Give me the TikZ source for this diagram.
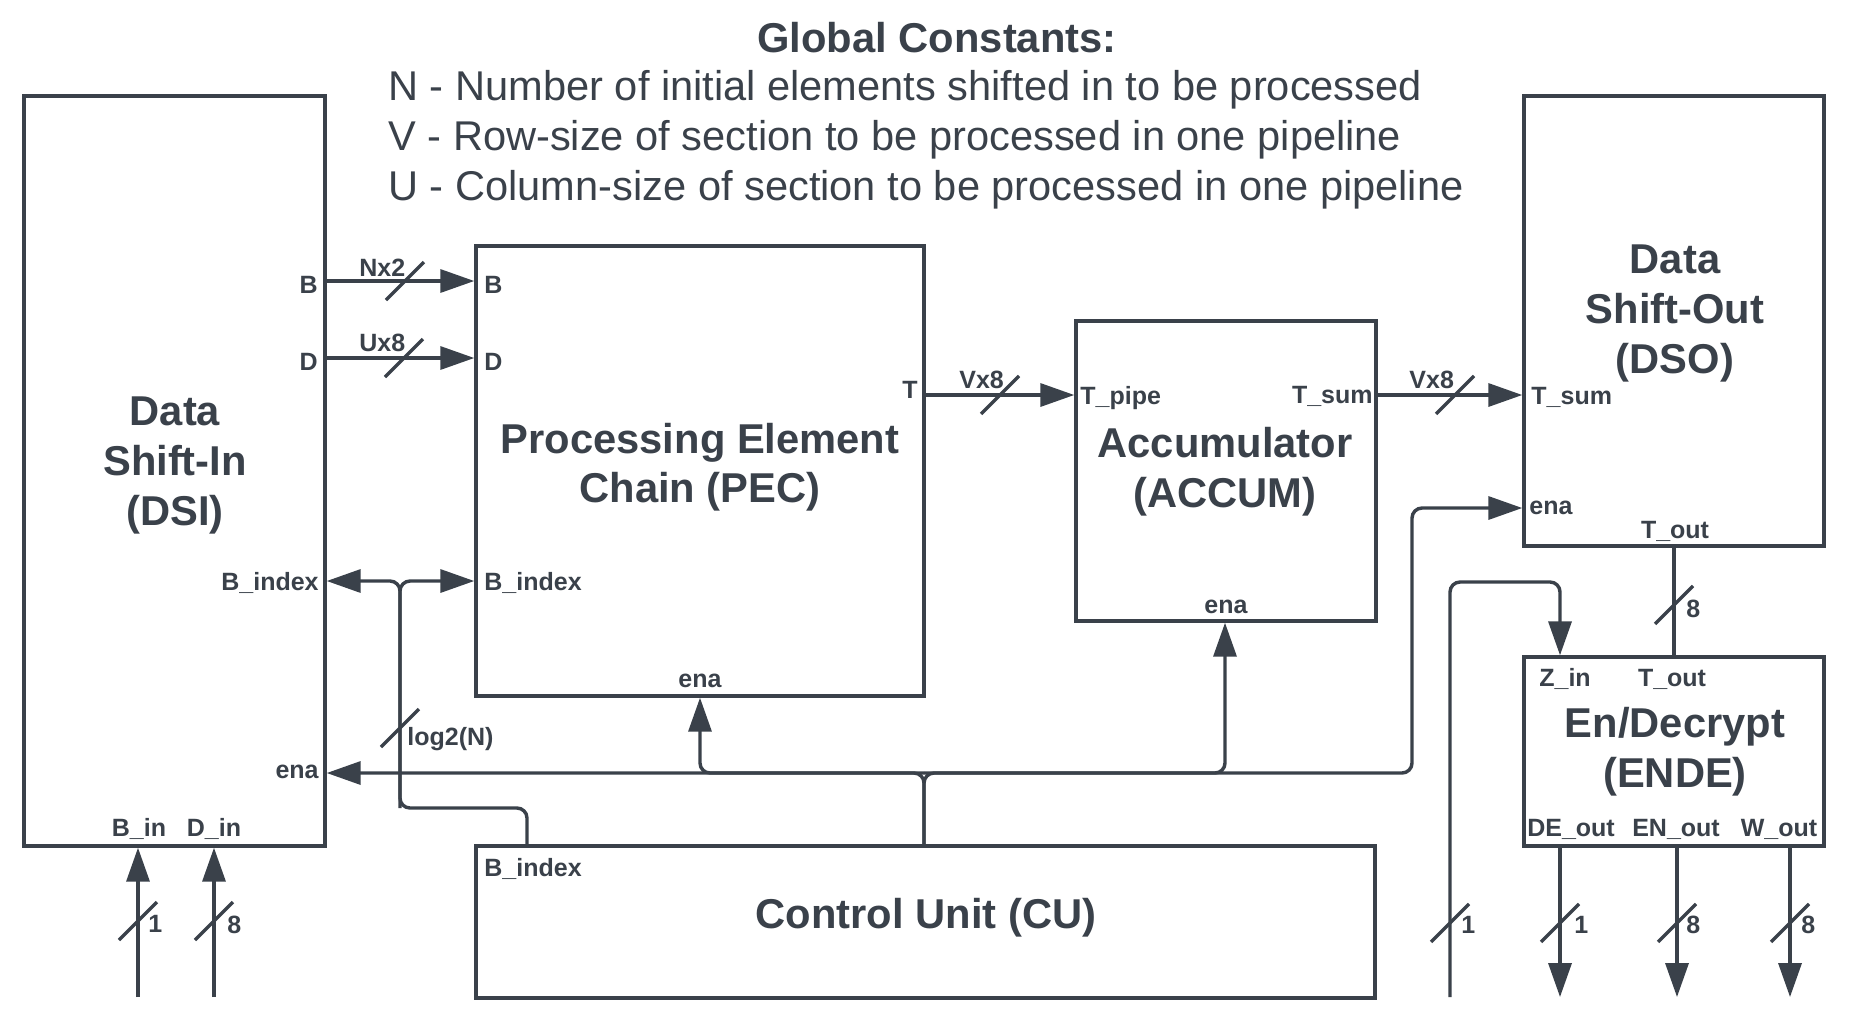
\documentclass[tikz,border=0pt]{standalone}
\usepackage{fontspec}
\setmainfont{Liberation Sans}
\usetikzlibrary{arrows.meta,calc}
\definecolor{ink}{HTML}{3A414A}
\tikzset{
  blk/.style={draw=ink, line width=1.7pt, rectangle, inner sep=0pt},
  wire/.style={draw=ink, line width=1.7pt, rounded corners=5pt},
  arr/.style={wire, -{Triangle[length=17pt,width=11.5pt]}},
  big/.style={text=ink, font=\fontsize{20.85pt}{25pt}\selectfont\bfseries, inner sep=0pt, anchor=base},
  const/.style={text=ink, font=\fontsize{20.8pt}{25pt}\selectfont, inner sep=0pt, anchor=base west},
  lbl/.style={text=ink, font=\fontsize{12.5pt}{15pt}\selectfont\bfseries, inner sep=0pt},
  bus/.pic={\draw[draw=ink, line width=1.7pt] (-19,19) -- (19,-19);},
}
\begin{document}
\begin{tikzpicture}[x=0.5pt, y=-0.5pt]
\fill[white] (0,0) rectangle (1855,1019);
\useasboundingbox (0,0) rectangle (1855,1019);

% constants
\node[big] (gc) at (937,52) {Global Constants:};
\node[const] (cn) at (388,100) {N - Number of initial elements shifted in to be processed};
\node[const] (cv) at (388,150) {V - Row-size of section to be processed in one pipeline};
\node[const] (cuu) at (388,200) {U - Column-size of section to be processed in one pipeline};

% blocks
\node[blk, minimum width=150.5pt, minimum height=375pt] (dsi) at (174.5,471) {};
\node[blk, minimum width=224pt, minimum height=225pt] (pec) at (700,471) {};
\node[blk, minimum width=150pt, minimum height=150pt] (acc) at (1226,471) {};
\node[blk, minimum width=150pt, minimum height=225pt] (dso) at (1674,321) {};
\node[blk, minimum width=150pt, minimum height=94.5pt] (ende) at (1674,751.5) {};
\node[blk, minimum width=449.5pt, minimum height=76pt] (cu) at (925.5,922) {};

% block titles
\node[big] (dsi1) at (175,425) {Data};
\node[big] (dsi2) at (175,475) {Shift-In};
\node[big] (dsi3) at (175,525) {(DSI)};
\node[big] (pec1) at (700,453) {Processing Element};
\node[big] (pec2) at (700,502) {Chain (PEC)};
\node[big] (acc1) at (1225,457) {Accumulator};
\node[big] (acc2) at (1225,507) {(ACCUM)};
\node[big] (dso1) at (1675,273) {Data};
\node[big] (dso2) at (1675,323) {Shift-Out};
\node[big] (dso3) at (1675,373) {(DSO)};
\node[big] (end1) at (1675,737) {En/Decrypt};
\node[big] (end2) at (1675,787) {(ENDE)};
\node[big] (cut) at (926,928) {Control Unit (CU)};

% port labels
\node[lbl, anchor=base east] (pDsiB) at (318,293) {B};
\node[lbl, anchor=base east] (pDsiD) at (318,370) {D};
\node[lbl, anchor=base east] (pDsiBi) at (319,590) {B\_index};
\node[lbl, anchor=base east] (pDsiE) at (319,778) {ena};
\node[lbl, anchor=base] (pDsiBin) at (139,836) {B\_in};
\node[lbl, anchor=base] (pDsiDin) at (214,836) {D\_in};
\node[lbl, anchor=base west] (pPecB) at (484,293) {B};
\node[lbl, anchor=base west] (pPecD) at (484,370) {D};
\node[lbl, anchor=base west] (pPecBi) at (484,590) {B\_index};
\node[lbl, anchor=base] (pPecE) at (700,687) {ena};
\node[lbl, anchor=base east] (pPecT) at (918,398) {T};
\node[lbl, anchor=base west] (pAccT) at (1080,404) {T\_pipe};
\node[lbl, anchor=base east] (pAccS) at (1373,403) {T\_sum};
\node[lbl, anchor=base] (pAccE) at (1226,613) {ena};
\node[lbl, anchor=base west] (pDsoS) at (1531,404) {T\_sum};
\node[lbl, anchor=base west] (pDsoE) at (1529,514) {ena};
\node[lbl, anchor=base] (pDsoT) at (1675,538) {T\_out};
\node[lbl, anchor=base west] (pCuB) at (484,876) {B\_index};
\node[lbl, anchor=base] (pEnZ) at (1565,686) {Z\_in};
\node[lbl, anchor=base] (pEnT) at (1672,686) {T\_out};
\node[lbl, anchor=base] (pEnDE) at (1571,836) {DE\_out};
\node[lbl, anchor=base] (pEnEN) at (1676,836) {EN\_out};
\node[lbl, anchor=base] (pEnW) at (1779,836) {W\_out};

% level / column coordinates
\coordinate (yB) at (0,281);
\coordinate (yD) at (0,358);
\coordinate (yT) at (0,395);
\coordinate (yBi) at (0,581);
\coordinate (yBbus) at (0,808);
\coordinate (yEna) at (0,773);
\coordinate (yDsoEna) at (0,508);
\coordinate (yZ) at (0,582);
\coordinate (yBot) at (0,997);
\coordinate (xBj) at (400,0);
\coordinate (xCuB) at (527,0);
\coordinate (xCuE) at (924,0);
\coordinate (xPecE) at (700,0);
\coordinate (xAccE) at (1225,0);
\coordinate (xDsoE) at (1412,0);
\coordinate (xZ) at (1450,0);
\coordinate (xZin) at (1560,0);
\coordinate (xEN) at (1677,0);
\coordinate (xW) at (1790,0);
\coordinate (xBin) at (138,0);
\coordinate (xDin) at (214,0);

% data connectors
\draw[arr] (dsi.east |- yB) -- (pec.west |- yB);
\draw[arr] (dsi.east |- yD) -- (pec.west |- yD);
\draw[arr] (pec.east |- yT) -- (acc.west |- yT);
\draw[arr] (acc.east |- yT) -- (dso.west |- yT);

% B_index bus
\draw[arr] (cu.north -| xCuB) |- (xBj |- yBbus) |- (dsi.east |- yBi);
\draw[arr] (xBj |- yBbus) -- (xBj |- yBi) -- (pec.west |- yBi);

% enable network
\draw[arr] (cu.north -| xCuE) |- (dsi.east |- yEna);
\draw[arr] (cu.north -| xCuE) |- (xDsoE |- yEna) |- (dso.west |- yDsoEna);
\draw[arr] (xCuE |- yEna) -| (pec.south -| xPecE);
\draw[arr] (xCuE |- yEna) -| (acc.south -| xAccE);

% DSO -> ENDE
\draw[wire] (dso.south) -- (ende.north);
\draw[arr] (xZ |- yBot) |- (xZin |- yZ) -- (ende.north -| xZin);

% outputs
\draw[arr] (ende.south -| xZin) -- (xZin |- yBot);
\draw[arr] (ende.south -| xEN) -- (xEN |- yBot);
\draw[arr] (ende.south -| xW) -- (xW |- yBot);

% inputs
\draw[arr] (xBin |- yBot) -- (dsi.south -| xBin);
\draw[arr] (xDin |- yBot) -- (dsi.south -| xDin);

% bus slashes
\pic at (405,281) {bus};
\pic at (404,358) {bus};
\pic at (1000,395) {bus};
\pic at (1455,395) {bus};
\pic at (400,728) {bus};
\pic at (138,921) {bus};
\pic at (214,921) {bus};
\pic at (1674,605) {bus};
\pic at (1450,923) {bus};
\pic at (1560,923) {bus};
\pic at (1677,923) {bus};
\pic at (1790,923) {bus};

% bus width labels
\node[lbl, anchor=base west] (wNx2) at (359,276) {Nx2};
\node[lbl, anchor=base west] (wUx8) at (359,351) {Ux8};
\node[lbl, anchor=base west] (wVx8a) at (959,388) {Vx8};
\node[lbl, anchor=base west] (wVx8b) at (1409,388) {Vx8};
\node[lbl, anchor=base west] (wLog) at (407,745) {log2(N)};
\node[lbl, anchor=base west] (wBin) at (148,932) {1};
\node[lbl, anchor=base west] (wDin) at (227,933) {8};
\node[lbl, anchor=base west] (wTout) at (1686,617) {8};
\node[lbl, anchor=base west] (wZ) at (1461,933) {1};
\node[lbl, anchor=base west] (wDE) at (1574,933) {1};
\node[lbl, anchor=base west] (wEN) at (1686,933) {8};
\node[lbl, anchor=base west] (wW) at (1801,933) {8};
\end{tikzpicture}
\end{document}
